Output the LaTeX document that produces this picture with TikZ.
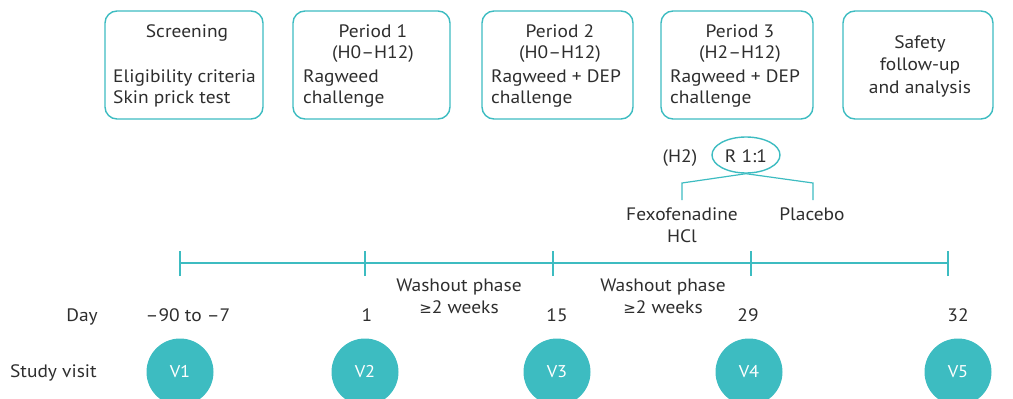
\documentclass[tikz,border=0pt]{standalone}
\usepackage{fontspec}
\setmainfont[FakeStretch=1.08]{PT Sans}
\newfontfamily\symfont{DejaVu Sans}
\usetikzlibrary{shapes.geometric}
\definecolor{teal1}{HTML}{3DBCC1}
\definecolor{txt}{HTML}{2E2E2E}
\begin{document}
\begin{tikzpicture}[x=1pt,y=-1pt,
  every node/.style={text=txt,font=\fontsize{18}{22}\selectfont,inner sep=0pt},
  phasebox/.style={draw=teal1,line width=1.4pt,rounded corners=12pt},
  tl/.style={draw=teal1,line width=1.4pt},
  lbl/.style={anchor=base},
  lbll/.style={anchor=base west},
  visit/.style={circle,fill=teal1,minimum size=67pt,text=white,font=\fontsize{17}{20}\selectfont}]
\useasboundingbox (0,0) rectangle (1013,399);
\clip (0,0) rectangle (1013,399);
% boxes
\draw[phasebox] (105,11) rectangle (263,119);
\draw[phasebox] (293,11) rectangle (450,119);
\draw[phasebox] (482,11) rectangle (633,119);
\draw[phasebox] (661,11) rectangle (813,119);
\draw[phasebox] (843,11) rectangle (993,119);
% box texts
\node[lbl] (s1) at (187,37) {Screening};
\node[lbll] (s2) at (113,82) {Eligibility criteria};
\node[lbll] (s3) at (113,103) {Skin prick test};
\node[lbl] (p1a) at (373,37) {Period 1};
\node[lbl] (p1b) at (373,58) {(H0–H12)};
\node[lbll] (p1c) at (303,82) {Ragweed};
\node[lbll] (p1d) at (303,103) {challenge};
\node[lbl] (p2a) at (560,37) {Period 2};
\node[lbl] (p2b) at (560,58) {(H0–H12)};
\node[lbll] (p2c) at (491,82) {Ragweed + DEP};
\node[lbll] (p2d) at (491,103) {challenge};
\node[lbl] (p3a) at (740,37) {Period 3};
\node[lbl] (p3b) at (740,58) {(H2–H12)};
\node[lbll] (p3c) at (670,82) {Ragweed + DEP};
\node[lbll] (p3d) at (670,103) {challenge};
\node[lbl] (sa) at (920,48) {Safety};
\node[lbl] (sb) at (920,70) {follow-up};
\node[lbl] (sc) at (920,93) {and analysis};
% randomisation
\node[ellipse,draw=teal1,line width=1.4pt,minimum width=68pt,minimum height=36pt] (r) at (746,155) {};
\node[lbl] (rt) at (746,162) {R 1:1};
\node[lbl] (h2) at (680,162) {(H2)};
\coordinate (fx) at (682,200);
\coordinate (pl) at (813,200);
\draw[tl,line width=1.2pt] (r.south) -- (682,183) -- (fx);
\draw[tl,line width=1.2pt] (r.south) -- (813,183) -- (pl);
\node[lbl] (fexo) at (682,220) {Fexofenadine};
\node[lbl] (hcl) at (682,242) {HCl};
\node[lbl] (plac) at (812,220) {Placebo};
% timeline
\coordinate (t1) at (180,263);
\coordinate (t2) at (365,263);
\coordinate (t3) at (553,263);
\coordinate (t4) at (751,263);
\coordinate (t5) at (948,263);
\draw[tl] (t1) -- (t5);
\foreach \t in {t1,t2,t3,t4,t5} \draw[tl] ([yshift=-13pt]\t) -- ([yshift=12pt]\t);
\node[lbl] (w1a) at (459,291) {Washout phase};
\node[lbl] (w1b) at (459,313) {{\symfont\fontsize{15}{20}\selectfont ≥}2 weeks};
\node[lbl] (w2a) at (663,291) {Washout phase};
\node[lbl] (w2b) at (663,313) {{\symfont\fontsize{15}{20}\selectfont ≥}2 weeks};
% days
\node[anchor=base east] (day) at (98,321) {Day};
\node[lbl] (d1) at (188,321) {–90 to –7};
\node[lbl] (d2) at (367,321) {1};
\node[lbl] (d3) at (557,321) {15};
\node[lbl] (d4) at (748,321) {29};
\node[lbl] (d5) at (958,321) {32};
% visits
\node[anchor=base east] (sv) at (97,377) {Study visit};
\node[visit] (v1) at (180,372) {V1};
\node[visit] (v2) at (365,372) {V2};
\node[visit] (v3) at (557,372) {V3};
\node[visit] (v4) at (749,372) {V4};
\node[visit] (v5) at (958,372) {V5};
\end{tikzpicture}
\end{document}
